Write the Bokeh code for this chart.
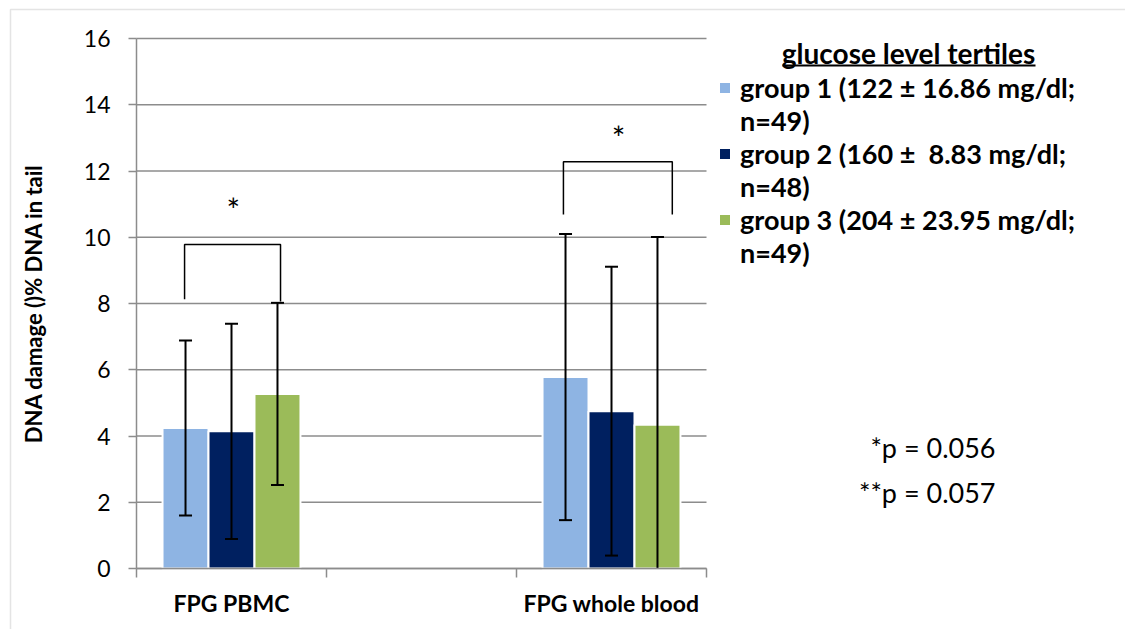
from bokeh.plotting import figure
from bokeh.models import (Range1d, FixedTicker, ColumnDataSource, Legend, LegendItem,
                          Label, BoxAnnotation)
from bokeh.embed import file_html
from bokeh.resources import INLINE
from bokeh.core.properties import value

# ---------------- data ----------------
categories = ["FPG PBMC", "", "FPG whole blood"]
measured = ["FPG PBMC", "FPG whole blood"]
groups = ["group 1 (122 \u00b1 16.86 mg/dl;",
          "group 2 (160 \u00b1  8.83 mg/dl;",
          "group 3 (204 \u00b1 23.95 mg/dl;"]
group_n = ["n=49)", "n=48)", "n=49)"]
legend_title = "glucose level tertiles"

g1_mean = [4.24, 5.78]
g2_mean = [4.14, 4.75]
g3_mean = [5.27, 4.34]
g1_err = [2.64, 4.32]
g2_err = [3.25, 4.36]
g3_err = [2.75, 5.67]

y_ticks = [0, 2, 4, 6, 8, 10, 12, 14, 16]
y_label = "DNA damage ()% DNA in tail"

# significance brackets (one per measured category)
bracket_left_x = [0.253, 2.247]
bracket_right_x = [0.758, 2.820]
bracket_left_y = [8.13, 10.69]
bracket_right_y = [8.06, 10.69]
bracket_top_y = [9.78, 12.28]
star_x = [0.51, 2.537]
star_y = [10.85, 13.02]
stars = ["*", "*"]

p_texts = ["*p = 0.056", "**p = 0.057"]

# ---------------- layout / styling ----------------
W, H = 1125, 629
FRAME_L, FRAME_R, AXIS_Y, TOP_Y = 136, 706, 568, 38
Y_MAX = 16
colors = ["#8EB4E3", "#002060", "#9BBB59"]
FONT = "Lato"
GRID = "#8c8c8c"
bar_w = 0.242
offsets = [-0.242, 0.0, 0.242]

x_per = (FRAME_R - FRAME_L) / len(categories)
y_per = (AXIS_Y - TOP_Y) / Y_MAX

p = figure(width=W, height=H, output_backend="svg", toolbar_location=None,
           x_range=Range1d(-FRAME_L / x_per, (W - FRAME_L) / x_per),
           y_range=Range1d(-(H - AXIS_Y) / y_per, Y_MAX + TOP_Y / y_per),
           min_border_left=0, min_border_right=0, min_border_top=0,
           min_border_bottom=0)
p.outline_line_color = None
p.background_fill_color = "white"
p.border_fill_color = "white"
p.xgrid.visible = False
p.ygrid.visible = False

# horizontal gridlines, limited to the category span
p.segment(x0=[0] * len(y_ticks), x1=[len(categories)] * len(y_ticks),
          y0=y_ticks, y1=y_ticks, line_color=GRID, line_width=1.5)

means = [g1_mean, g2_mean, g3_mean]
errs = [g1_err, g2_err, g3_err]
bar_renderers = []
for gi in range(3):
    xs = [categories.index(m) + 0.5 + offsets[gi] for m in measured]
    tops = means[gi]
    raw_low = [m - e for m, e in zip(means[gi], errs[gi])]
    lowers = [max(0, v) for v in raw_low]
    uppers = [m + e for m, e in zip(means[gi], errs[gi])]
    src = ColumnDataSource(dict(x=xs, top=tops, lower=lowers, upper=uppers))
    r = p.vbar(x="x", top="top", width=bar_w, source=src, fill_color=colors[gi],
               line_color="white", line_width=2)
    bar_renderers.append(r)
    p.segment(x0="x", y0="lower", x1="x", y1="upper", source=src,
              line_color="black", line_width=2)
    p.scatter(x="x", y="upper", source=src, marker="dash", size=13,
              line_color="black", line_width=2)
    low_x = [x for x, v in zip(xs, raw_low) if v >= 0]
    low_y = [v for v in raw_low if v >= 0]
    p.scatter(x=low_x, y=low_y, marker="dash", size=13,
              line_color="black", line_width=2)

# brackets
bxs = [[l, l, r, r] for l, r in zip(bracket_left_x, bracket_right_x)]
bys = [[a, t, t, b] for a, t, b in zip(bracket_left_y, bracket_top_y, bracket_right_y)]
p.multi_line(xs=bxs, ys=bys, line_color="black", line_width=1.5)
p.text(x=star_x, y=star_y, text=stars, text_font=value(FONT), text_font_size="32px",
       text_align="center", text_baseline="middle", text_color="black")

# axes drawn at data zero
p.yaxis.fixed_location = 0
p.yaxis.bounds = (0, Y_MAX)
p.yaxis.ticker = FixedTicker(ticks=y_ticks)
p.yaxis.axis_line_color = GRID
p.yaxis.axis_line_width = 1.5
p.yaxis.major_tick_line_color = GRID
p.yaxis.major_tick_line_width = 1.5
p.yaxis.major_tick_out = 8
p.yaxis.major_tick_in = 0
p.yaxis.minor_tick_line_color = None
p.yaxis.major_label_text_font = FONT
p.yaxis.major_label_text_font_size = "23px"
p.yaxis.major_label_text_color = "black"
p.yaxis.major_label_standoff = 18
p.yaxis.axis_label = y_label
p.yaxis.axis_label_text_font = FONT
p.yaxis.axis_label_text_font_style = "bold"
p.yaxis.axis_label_text_font_size = "22px"
p.yaxis.axis_label_text_color = "black"
p.yaxis.axis_label_standoff = 34

cat_centers = [i + 0.5 for i in range(len(categories))]
p.xaxis.fixed_location = 0
p.xaxis.bounds = (0, len(categories))
p.xaxis.ticker = FixedTicker(ticks=cat_centers,
                             minor_ticks=list(range(len(categories) + 1)))
p.xaxis.major_label_overrides = {c: (lab if lab else " ") for c, lab in zip(cat_centers, categories)}
p.xaxis.axis_line_color = GRID
p.xaxis.axis_line_width = 1.5
p.xaxis.major_tick_line_color = None
p.xaxis.major_tick_out = 0
p.xaxis.minor_tick_line_color = GRID
p.xaxis.minor_tick_line_width = 1.5
p.xaxis.minor_tick_out = 9
p.xaxis.minor_tick_in = 0
p.xaxis.major_label_text_font = FONT
p.xaxis.major_label_text_font_style = "bold"
p.xaxis.major_label_text_font_size = "23px"
p.xaxis.major_label_text_color = "black"
p.xaxis.major_label_standoff = 11

# legend
dummy = p.scatter(x=[], y=[], fill_alpha=0, line_alpha=0)
items = []
for gi in range(3):
    items.append(LegendItem(label=groups[gi], renderers=[bar_renderers[gi]]))
    items.append(LegendItem(label=group_n[gi], renderers=[dummy]))
legend = Legend(items=items, location=(717, 360), orientation="vertical",
                padding=0, margin=0, border_line_color=None, background_fill_alpha=0,
                label_text_font=FONT, label_text_font_style="bold",
                label_text_font_size="27px", label_text_color="black",
                glyph_width=15, glyph_height=15, label_standoff=8,
                label_height=33, spacing=0)
p.add_layout(legend)

p.add_layout(Label(x=908, y=H - 52, x_units="screen", y_units="screen", text=legend_title,
                   text_font=FONT, text_font_style="bold", text_font_size="28px",
                   text_align="center", text_baseline="middle", text_color="black"))
p.add_layout(BoxAnnotation(left=782, right=1035, bottom=H - 66, top=H - 64,
                           left_units="screen", right_units="screen",
                           top_units="screen", bottom_units="screen",
                           fill_color="black", fill_alpha=1, line_color=None))

p.add_layout(Label(x=995, y=H - 447, x_units="screen", y_units="screen", text=p_texts[0],
                   text_font=FONT, text_font_size="27px", text_align="right",
                   text_baseline="middle", text_color="black"))
p.add_layout(Label(x=995, y=H - 492, x_units="screen", y_units="screen", text=p_texts[1],
                   text_font=FONT, text_font_size="27px", text_align="right",
                   text_baseline="middle", text_color="black"))

# chart-area border (only top and left edges fall inside the picture)
p.add_layout(BoxAnnotation(left=10, right=W + 50, top=H - 9, bottom=-50,
                           left_units="screen", right_units="screen",
                           top_units="screen", bottom_units="screen",
                           fill_alpha=0, line_color="#a6a6a6", line_width=1.5))

open("out.html", "w").write(file_html(p, INLINE))
